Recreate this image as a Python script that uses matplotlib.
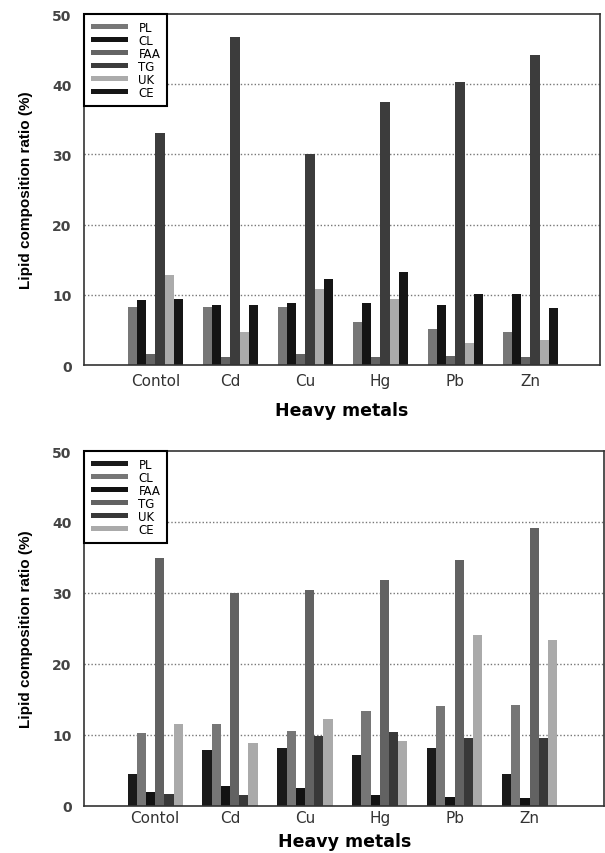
import matplotlib

matplotlib.use("Agg")
import matplotlib.pyplot as plt
import numpy as np

plt.rcParams["font.family"] = ["DejaVu Sans"]

metals = ["Contol", "Cd", "Cu", "Hg", "Pb", "Zn"]
lipids = ["PL", "CL", "FAA", "TG", "UK", "CE"]

# upper panel
top_pl = [8.2, 8.3, 8.3, 6.1, 5.1, 4.7]
top_cl = [9.2, 8.5, 8.8, 8.9, 8.5, 10.1]
top_faa = [1.6, 1.1, 1.6, 1.1, 1.3, 1.1]
top_tg = [33.1, 46.7, 30.0, 37.5, 40.3, 44.1]
top_uk = [12.8, 4.7, 10.9, 9.4, 3.2, 3.5]
top_ce = [9.4, 8.5, 12.3, 13.2, 10.1, 8.1]
top_colors = ["#777777", "#141414", "#646464", "#3c3c3c", "#ababab", "#161616"]

# lower panel
bot_pl = [4.5, 7.9, 8.1, 7.2, 8.2, 4.5]
bot_cl = [10.2, 11.5, 10.6, 13.4, 14.0, 14.2]
bot_faa = [1.9, 2.8, 2.5, 1.5, 1.3, 1.1]
bot_tg = [34.9, 30.0, 30.4, 31.8, 34.7, 39.2]
bot_uk = [1.7, 1.5, 9.8, 10.4, 9.5, 9.5]
bot_ce = [11.5, 8.9, 12.3, 9.1, 24.1, 23.3]
bot_colors = ["#1a1a1a", "#767676", "#121212", "#626262", "#383838", "#aaaaaa"]


def panel(ax, series, colors, xmax, xpad, labpad):
    x = np.arange(len(metals))
    w = 0.123
    for i, (vals, c, name) in enumerate(zip(series, colors, lipids)):
        ax.bar(x + (i - 2.5) * w, vals, w, color=c, label=name, zorder=2)
    ax.set_xlim(-0.95, xmax)
    ax.set_ylim(0, 50)
    ax.set_yticks([0, 10, 20, 30, 40, 50])
    ax.set_xticks(x)
    ax.set_xticklabels(metals, fontsize=11, color="#333333")
    for t in ax.get_yticklabels():
        t.set_fontsize(10)
        t.set_fontweight("bold")
        t.set_color("#444444")
    ax.tick_params(length=0)
    ax.tick_params(axis="y", pad=9)
    ax.tick_params(axis="x", pad=xpad)
    for y in [10, 20, 30, 40]:
        ax.axhline(y, color="#777777", lw=1, ls=(0, (1, 1.5)), zorder=1)
    for s in ax.spines.values():
        s.set_color("#333333")
        s.set_linewidth(1.2)
    ax.set_ylabel("Lipid composition ratio (%)", fontsize=11, fontweight="bold",
                  family="Liberation Sans", labelpad=14)
    ax.set_xlabel("Heavy metals", fontsize=12.5, fontweight="bold", labelpad=labpad)
    leg = ax.legend(loc="upper left", borderaxespad=0, fontsize=8.5, handlelength=3.1,
                    handleheight=0.3, labelspacing=0.0, handletextpad=0.9,
                    borderpad=0.6, fancybox=False, framealpha=1)
    leg.get_frame().set_edgecolor("black")
    leg.get_frame().set_linewidth(1.5)
    leg.set_zorder(5)


fig = plt.figure(figsize=(6.05, 8.54), dpi=100)
ax1 = fig.add_axes([0.139, 0.5714, 0.853, 0.4110])
ax2 = fig.add_axes([0.139, 0.0553, 0.860, 0.4154])
panel(ax1, [top_pl, top_cl, top_faa, top_tg, top_uk, top_ce], top_colors, 5.93, 6, 9)
panel(ax2, [bot_pl, bot_cl, bot_faa, bot_tg, bot_uk, bot_ce], bot_colors, 6.0, 3, 5)
fig.savefig("out.png", dpi=100)
